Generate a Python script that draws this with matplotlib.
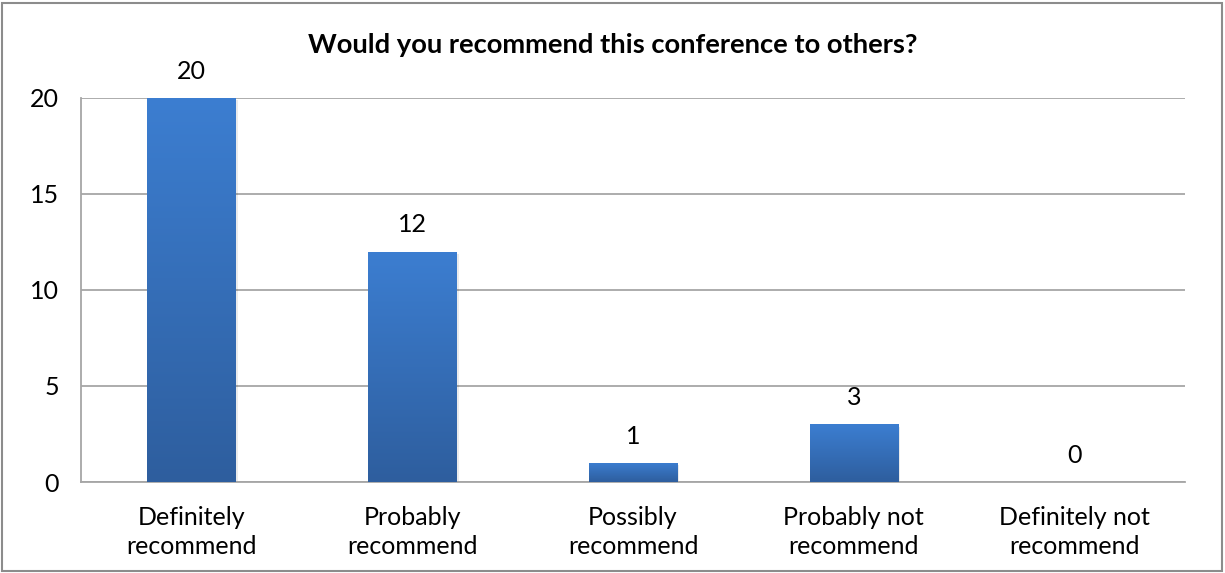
import matplotlib.pyplot as plt
import numpy as np
from matplotlib.colors import LinearSegmentedColormap
from matplotlib.patches import Rectangle

categories = ["Definitely\nrecommend", "Probably\nrecommend", "Possibly\nrecommend",
              "Probably not\nrecommend", "Definitely not\nrecommend"]
counts = [20, 12, 1, 3, 0]
yticks = [0, 5, 10, 15, 20]
title = "Would you recommend this conference to others?"

plt.rcParams['font.family'] = ['Lato', 'DejaVu Sans']

fig = plt.figure(figsize=(12.25, 5.73), dpi=100)
ax = fig.add_axes([81 / 1225, 1 - 482 / 573, 1104 / 1225, 384 / 573])

x = np.arange(len(categories))
bar_w = 0.40
bars = ax.bar(x, counts, width=bar_w, color="none", edgecolor="none")

# vertical gradient fill: lighter blue at top, darker at bottom
cmap = LinearSegmentedColormap.from_list("bluegrad", ["#2E5E9E", "#3C7ED1"])
grad = np.linspace(0, 1, 256).reshape(-1, 1)
for b in bars:
    h = b.get_height()
    if h <= 0:
        continue
    x0 = b.get_x()
    # soft drop shadow
    ax.add_patch(Rectangle((x0 + 0.01, -0.12), bar_w, h, facecolor="#000000",
                           alpha=0.08, edgecolor="none", zorder=2))
    im = ax.imshow(grad, cmap=cmap, aspect="auto", origin="lower",
                   extent=(x0, x0 + bar_w, 0, h), zorder=3)
    im.set_clip_path(b)

for xi, v in zip(x, counts):
    ax.annotate(str(v), (xi, v), xytext=(0, 11), textcoords="offset points",
                ha="center", va="bottom", fontsize=18, color="#000000")

ax.set_xlim(-0.5, len(categories) - 0.5)
ax.set_ylim(0, 20)
ax.set_yticks(yticks)
ax.set_xticks(x)
ax.set_xticklabels(categories, fontsize=18, linespacing=1.35)
ax.tick_params(axis="y", labelsize=18, length=0, pad=16)
ax.tick_params(axis="x", length=0, pad=17)
ax.yaxis.grid(True, color="#A6A6A6", linewidth=1.3)
ax.set_axisbelow(True)
for s in ["top", "right"]:
    ax.spines[s].set_visible(False)
for s in ["left", "bottom"]:
    ax.spines[s].set_color("#A6A6A6")
    ax.spines[s].set_linewidth(1.3)

fig.text(0.5, 1 - 45 / 573, title, ha="center", va="center",
         fontsize=19.7, fontweight="bold")

# outer chart border
fig.patches.append(Rectangle((2 / 1225, 2 / 573), 1 - 5 / 1225, 1 - 5 / 573,
                             transform=fig.transFigure, fill=False,
                             edgecolor="#8C8C8C", linewidth=1.5))

fig.savefig("out.png", dpi=100)
